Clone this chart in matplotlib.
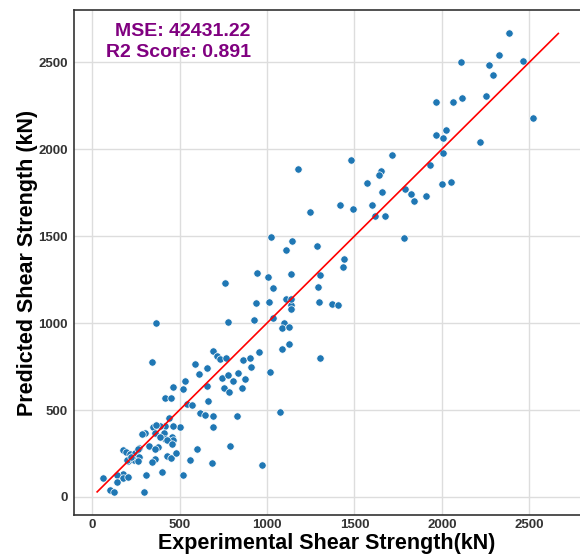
import numpy as np
import matplotlib
matplotlib.use("Agg")
import matplotlib.pyplot as plt

# experimental (x) vs predicted (y) shear strength, kN
exp_kN = [
    463, 534, 521, 416, 450, 540, 572, 660, 618, 645,
    439, 502, 460, 418, 386, 347, 363, 301, 286, 359,
    412, 416, 387, 456, 463, 431, 456, 378, 324, 359,
    267, 174, 195, 216, 244, 260, 269, 240, 206, 197,
    263, 225, 359, 340, 431, 454, 481, 601, 559, 400,
    309, 174, 145, 174, 203, 141, 63, 103, 126, 296,
    521, 342, 363, 586, 614, 658, 656, 685, 691, 692,
    691, 712, 733, 765, 862, 905, 742, 775, 832, 906,
    807, 874, 755, 782, 858, 826, 788, 969, 1076, 1018,
    957, 1085, 1127, 1304, 780, 928, 1037, 1097, 1087, 1127,
    937, 1013, 1137, 1137, 1297, 1370, 1407, 759, 1036, 1110,
    1137, 1291, 943, 1007, 1137, 1304, 1025, 1146, 1110, 1287,
    1442, 1434, 1180, 1248, 1419, 1490, 1482, 1601, 1616, 1673,
    1715, 1653, 1638, 1572, 1660, 1790, 1825, 1839, 1909, 1786,
    2002, 2050, 1930, 2006, 1965, 2025, 2006, 2218, 2523, 1965,
    2064, 2117, 2252, 2109, 2268, 2294, 2327, 2466, 2384,
]
pred_kN = [
    634, 665, 621, 569, 569, 535, 527, 554, 481, 473,
    454, 401, 408, 408, 408, 404, 412, 366, 362, 366,
    366, 332, 347, 347, 328, 328, 305, 289, 295, 276,
    280, 270, 259, 247, 251, 276, 228, 213, 207, 213,
    205, 228, 220, 200, 236, 224, 251, 276, 213, 145,
    127, 131, 127, 111, 117, 86, 111, 40, 30, 29,
    128, 775, 1002, 765, 710, 742, 637, 196, 467, 401,
    837, 812, 794, 799, 789, 799, 686, 702, 715, 746,
    669, 681, 624, 601, 627, 466, 295, 186, 487, 720,
    833, 851, 877, 799, 1006, 1018, 1029, 999, 970, 975,
    1116, 1120, 1106, 1081, 1121, 1108, 1104, 1229, 1200, 1140,
    1140, 1209, 1289, 1265, 1282, 1275, 1494, 1473, 1420, 1444,
    1371, 1323, 1888, 1637, 1679, 1657, 1939, 1677, 1617, 1617,
    1968, 1875, 1850, 1807, 1754, 1774, 1741, 1704, 1731, 1491,
    1800, 1813, 1911, 1978, 2080, 2110, 2064, 2040, 2178, 2273,
    2273, 2296, 2304, 2503, 2482, 2428, 2543, 2509, 2666,
]
mse_text = "MSE: 42431.22"
r2_text = "R2 Score: 0.891"
ticks = [0, 500, 1000, 1500, 2000, 2500]

plt.rcParams['font.family'] = ['Liberation Sans', 'DejaVu Sans']

fig = plt.figure(figsize=(5.8, 5.57), dpi=100)
ax = fig.add_axes([0.128, 0.0754, 0.872, 0.906])

ax.scatter(exp_kN, pred_kN, s=28, color='#1f77b4', edgecolor='white',
           linewidth=0.5, zorder=3)
lo = min(min(exp_kN), min(pred_kN))
hi = max(max(exp_kN), max(pred_kN))
ax.plot([lo, hi], [lo, hi], color='red', linewidth=1.2, zorder=4)

ax.set_xlim(-102, 2790)
ax.set_ylim(-104, 2799)
ax.set_xticks(ticks)
ax.set_yticks(ticks)
ax.grid(True, color='#dddddd', linewidth=1)
ax.set_axisbelow(True)
ax.tick_params(length=0, labelsize=9.5, labelcolor='#333333')
ax.tick_params(axis='x', pad=3)
ax.tick_params(axis='y', pad=4.5)
for lab in ax.get_xticklabels() + ax.get_yticklabels():
    lab.set_fontweight('bold')
for s in ['left', 'bottom', 'top']:
    ax.spines[s].set_color('#333333')
    ax.spines[s].set_linewidth(1.2)
ax.spines['right'].set_visible(False)

ax.set_xlabel('Experimental Shear Strength(kN)', fontsize=15.5,
              fontweight='bold')
ax.set_ylabel('Predicted Shear Strength (kN)', fontsize=15.5,
              fontweight='bold')
ax.xaxis.set_label_coords(0.5, -0.035)
ax.yaxis.set_label_coords(-0.071, 0.5)

ax.text(908, 2680, mse_text, ha='right', va='center', fontsize=14,
        fontweight='bold', color='purple')
ax.text(908, 2559, r2_text, ha='right', va='center', fontsize=14,
        fontweight='bold', color='purple')

fig.savefig('out.png', dpi=100)
